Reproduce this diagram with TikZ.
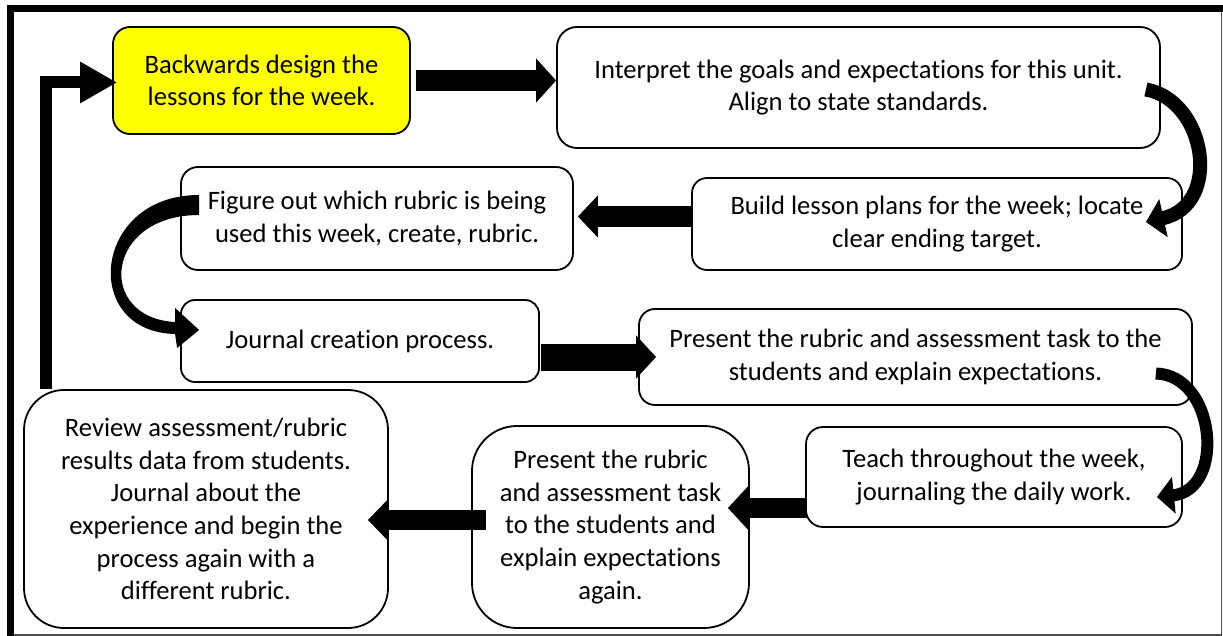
\documentclass[tikz,border=0pt]{standalone}
\usepackage{fontspec}
\setmainfont{Carlito}[Ligatures=NoCommon]
\usetikzlibrary{arrows.meta,calc}

\definecolor{frameGray}{HTML}{505050}

\tikzset{
  box/.style={draw=black, line width=1.8pt, fill=white, align=center,
    inner sep=0pt, font=\fontsize{26.6}{32.6}\selectfont},
  blockarrow/.style n args={3}{line width=#1, draw=black,
    -{Triangle[width=#2,length=#3]}},
  bentarrow/.style={fill=black, draw=none},
}

\begin{document}
\begin{tikzpicture}[x=1pt,y=-1pt]
\useasboundingbox (0,0) rectangle (1223,636);

% outer frame: heavy top and left edges, thin grey right and bottom edges
\draw[line width=7pt, black] (7,8.5) -- (1223,8.5);
\draw[line width=7pt, black] (10.5,5) -- (10.5,636);
\draw[line width=1.5pt, frameGray] (1221.7,12) -- (1221.7,636);
\draw[line width=1.5pt, frameGray] (14,635) -- (1222.4,635);

% process steps
\node[box, fill={rgb,255:red,255;green,255;blue,0}, rounded corners=17pt,
  minimum width=297pt, minimum height=107pt] (b1) at (261.5,80.5)
  {Backwards design the\\lessons for the week.};
\node[box, rounded corners=20pt, minimum width=603pt, minimum height=121pt]
  (b2) at (858.5,87.5)
  {Interpret the goals and expectations for this unit.\\Align to state standards.};
\node[box, rounded corners=15pt, minimum width=490pt, minimum height=92pt]
  (b3) at (937,224)
  {Build lesson plans for the week; locate\\clear ending target.};
\node[box, rounded corners=17pt, minimum width=392pt, minimum height=103pt]
  (b4) at (377,218.5)
  {Figure out which rubric is being\\used this week, create, rubric.};
\node[box, rounded corners=14pt, minimum width=358pt, minimum height=82pt]
  (b5) at (360,341)
  {Journal creation process.};
\node[box, rounded corners=16pt, minimum width=553pt, minimum height=96pt]
  (b6) at (915.5,357)
  {Present the rubric and assessment task to the\\students and explain expectations.};
\node[box, rounded corners=17pt, minimum width=376pt, minimum height=100pt]
  (b7) at (994,477)
  {Teach throughout the week,\\journaling the daily work.};
\node[box, rounded corners=45pt, minimum width=277pt, minimum height=202pt]
  (b8) at (610.5,527)
  {Present the rubric\\and assessment task\\to the students and\\explain expectations\\again.};
\node[box, rounded corners=40pt, minimum width=364pt, minimum height=238pt]
  (b9) at (206,509)
  {Review assessment/rubric\\results data from students.\\Journal about the\\experience and begin the\\process again with a\\different rubric.};

% straight block arrows
\draw[blockarrow={21pt}{43pt}{20pt}] ($(b1.east)+(5,0)$) -- (b1.east -| b2.west);
\draw[blockarrow={21pt}{41pt}{20pt}] ($(b3.west)+(1,-7.5)$) -- ($(b4.east)+(4,-2)$);
\draw[blockarrow={27pt}{42pt}{20pt}] ($(b5.east)+(1,16)$) -- ($(b6.west)+(18,0)$);
\draw[blockarrow={20pt}{42pt}{20pt}] ($(b7.west)+(2,31)$) -- ($(b8.east)+(-22,-19)$);
\draw[blockarrow={20pt}{40pt}{20pt}] ($(b8.west)+(15,-7)$) -- ($(b9.east)+(-21,11)$);

% return loop back to the first step
\draw[blockarrow={12pt}{39pt}{37pt}, line join=miter]
  ($(b9.north west)+(23,0)$) |- ($(b1.west)+(5,2)$);

% curved arrows between rows
\draw[blockarrow={14pt}{38pt}{18pt}]
  ($(b2.east)+(-15,2)$) .. controls ($(b2.east)+(45,12.5)$)
  and ($(b3.east)+(40,-19)$) .. ($(b3.east)+(-37,-2)$);
% tapered left-hand bend, drawn relative to the step it leaves
\begin{scope}[shift={(b4.west)}]
  \fill[bentarrow] (19,-23.5) .. controls (-88,-23.5) and (-100,113.5) .. (-5,115.5)
    -- (-3,129.5) -- (19,111.5) -- (-5,89.5) -- (-5,103.5)
    .. controls (-84,99.5) and (-76,-3.5) .. (19,-3.5) -- cycle;
\end{scope}
\draw[blockarrow={12pt}{36pt}{17pt}]
  ($(b6.east)+(-37,16.5)$) .. controls ($(b6.east)+(23,18)$)
  and ($(b7.east)+(43,13)$) .. ($(b7.east)+(-26,20)$);
\end{tikzpicture}
\end{document}
